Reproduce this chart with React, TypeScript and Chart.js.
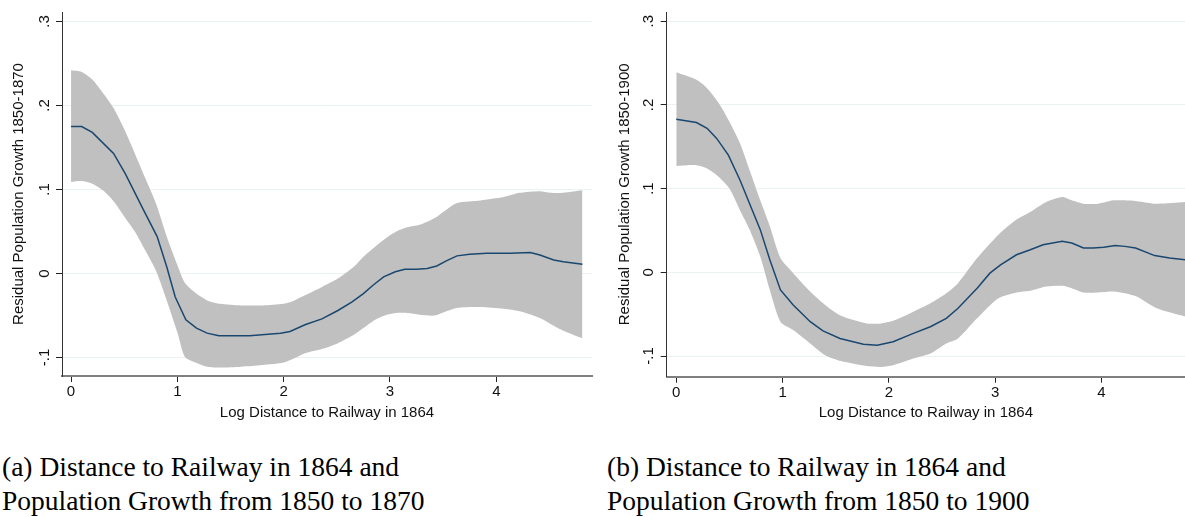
import React, { useEffect, useRef } from "react";
import { Chart, registerables } from "chart.js";

Chart.register(...registerables);

// ---------- Data ----------
const X_TICKS = [0, 1, 2, 3, 4];
const Y_TICKS = [-0.1, 0, 0.1, 0.2, 0.3];
const Y_TICK_LABELS = ["-.1", "0", ".1", ".2", ".3"];
const X_TITLE = "Log Distance to Railway in 1864";

// Panel (a): 1850-1870
const A_BAND_X = [0, 0.1, 0.2, 0.3, 0.4, 0.5, 0.6, 0.7, 0.8, 0.9, 1.0, 1.07, 1.17, 1.28, 1.4, 1.6, 1.8, 2.0, 2.1, 2.2, 2.36, 2.51, 2.66, 2.75, 2.86, 2.97, 3.06, 3.16, 3.28, 3.42, 3.53, 3.63, 3.85, 4.07, 4.22, 4.41, 4.51, 4.63, 4.81];
const A_UPPER = [0.242, 0.24, 0.231, 0.215, 0.197, 0.172, 0.143, 0.113, 0.083, 0.044, 0.01, -0.011, -0.023, -0.032, -0.036, -0.038, -0.038, -0.036, -0.032, -0.026, -0.016, -0.006, 0.008, 0.02, 0.032, 0.043, 0.05, 0.055, 0.058, 0.066, 0.076, 0.084, 0.087, 0.091, 0.096, 0.098, 0.096, 0.096, 0.099];
const A_LOWER = [0.109, 0.11, 0.107, 0.099, 0.086, 0.068, 0.05, 0.027, 0.003, -0.032, -0.07, -0.099, -0.106, -0.111, -0.112, -0.111, -0.109, -0.106, -0.101, -0.095, -0.09, -0.083, -0.073, -0.065, -0.055, -0.049, -0.047, -0.047, -0.049, -0.05, -0.045, -0.041, -0.04, -0.042, -0.045, -0.053, -0.06, -0.068, -0.077];
const A_LINE_X = [0, 0.1, 0.2, 0.4, 0.51, 0.68, 0.81, 0.9, 0.98, 1.08, 1.18, 1.28, 1.39, 1.68, 1.97, 2.06, 2.2, 2.36, 2.51, 2.64, 2.75, 2.84, 2.94, 3.05, 3.14, 3.25, 3.35, 3.44, 3.53, 3.63, 3.75, 3.91, 4.13, 4.32, 4.41, 4.54, 4.63, 4.81];
const A_LINE_Y = [0.175, 0.175, 0.168, 0.143, 0.119, 0.076, 0.044, 0.008, -0.028, -0.055, -0.065, -0.071, -0.074, -0.074, -0.071, -0.069, -0.061, -0.054, -0.044, -0.034, -0.024, -0.014, -0.004, 0.002, 0.005, 0.005, 0.006, 0.009, 0.015, 0.021, 0.023, 0.024, 0.024, 0.025, 0.022, 0.016, 0.014, 0.011];
const A_Y_TITLE = "Residual Population Growth 1850-1870";
const A_CAPTION = ["(a) Distance to Railway in 1864 and", "Population Growth from 1850 to 1870"];

// Panel (b): 1850-1900
const B_BAND_X = [0, 0.19, 0.29, 0.4, 0.5, 0.6, 0.69, 0.79, 0.88, 0.98, 1.1, 1.26, 1.4, 1.55, 1.79, 1.93, 2.04, 2.23, 2.39, 2.54, 2.65, 2.83, 3.03, 3.2, 3.33, 3.48, 3.63, 3.72, 3.83, 3.97, 4.11, 4.22, 4.33, 4.52, 4.79];
const B_UPPER = [0.239, 0.23, 0.22, 0.202, 0.18, 0.154, 0.122, 0.086, 0.055, 0.017, -0.001, -0.023, -0.039, -0.052, -0.061, -0.061, -0.058, -0.047, -0.037, -0.025, -0.013, 0.017, 0.045, 0.063, 0.072, 0.084, 0.09, 0.086, 0.082, 0.082, 0.086, 0.086, 0.085, 0.082, 0.084];
const B_LOWER = [0.127, 0.128, 0.124, 0.114, 0.1, 0.074, 0.051, 0.019, -0.021, -0.059, -0.069, -0.085, -0.099, -0.106, -0.112, -0.113, -0.111, -0.103, -0.097, -0.085, -0.079, -0.055, -0.031, -0.024, -0.022, -0.017, -0.016, -0.019, -0.024, -0.024, -0.023, -0.025, -0.029, -0.043, -0.053];
const B_LINE_X = [0, 0.19, 0.29, 0.38, 0.49, 0.6, 0.69, 0.79, 0.88, 0.98, 1.1, 1.26, 1.38, 1.54, 1.76, 1.89, 2.04, 2.23, 2.39, 2.54, 2.65, 2.83, 2.95, 3.05, 3.2, 3.33, 3.45, 3.63, 3.72, 3.83, 3.92, 4.02, 4.13, 4.22, 4.32, 4.5, 4.64, 4.79];
const B_LINE_Y = [0.183, 0.179, 0.172, 0.16, 0.14, 0.11, 0.082, 0.051, 0.015, -0.021, -0.039, -0.059, -0.07, -0.079, -0.086, -0.087, -0.083, -0.073, -0.065, -0.055, -0.043, -0.019, -0.001, 0.009, 0.021, 0.027, 0.033, 0.037, 0.035, 0.029, 0.029, 0.03, 0.032, 0.031, 0.029, 0.02, 0.017, 0.015];
const B_Y_TITLE = "Residual Population Growth 1850-1900";
const B_CAPTION = ["(b) Distance to Railway in 1864 and", "Population Growth from 1850 to 1900"];

const SANS = '"Liberation Sans", Arial, sans-serif';
const FONT_SIZE = 15;

const zip = (xs: number[], ys: number[]) => xs.map((x, i) => ({ x, y: ys[i] }));

type PanelProps = {
  bandX: number[];
  upper: number[];
  lower: number[];
  lineX: number[];
  lineY: number[];
  yTitle: string;
  xMin: number;
  xMax: number;
  yMin: number;
  yMax: number;
  yAxisWidth: number;
  yTitlePad: number;
  padRight: number;
  width: number;
  height: number;
  plotBottom: number;
};

const yTickLabelPlugin = {
  id: "yTickLabelPlugin",
  afterDraw(chart: any) {
    const s = chart.scales.y;
    const ctx = chart.ctx;
    ctx.save();
    ctx.font = FONT_SIZE + "px " + SANS;
    ctx.fillStyle = "#111";
    ctx.textAlign = "center";
    ctx.textBaseline = "middle";
    Y_TICKS.forEach((v, i) => {
      const py = s.getPixelForValue(v);
      ctx.save();
      ctx.translate(s.right - 17.5, py);
      ctx.rotate(-Math.PI / 2);
      ctx.fillText(Y_TICK_LABELS[i], 0, 0);
      ctx.restore();
    });
    ctx.restore();
  },
};

function Panel(p: PanelProps) {
  const ref = useRef<HTMLCanvasElement | null>(null);
  useEffect(() => {
    if (!ref.current) return;
    const chart = new Chart(ref.current, {
      type: "line",
      data: {
        datasets: [
          {
            data: zip(p.lineX, p.lineY),
            borderColor: "#1a476f",
            borderWidth: 1.5,
            pointRadius: 0,
            fill: false,
            tension: 0,
          },
          {
            data: zip(p.bandX, p.upper),
            borderWidth: 0,
            borderColor: "rgba(0,0,0,0)",
            backgroundColor: "#c0c0c0",
            pointRadius: 0,
            fill: "+1",
            tension: 0.25,
          },
          {
            data: zip(p.bandX, p.lower),
            borderWidth: 0,
            borderColor: "rgba(0,0,0,0)",
            pointRadius: 0,
            fill: false,
            tension: 0.25,
          },
        ],
      },
      options: {
        animation: false,
        responsive: false,
        maintainAspectRatio: false,
        events: [],
        layout: { padding: { top: 12, right: p.padRight, left: 0, bottom: 0 } },
        plugins: { legend: { display: false }, tooltip: { enabled: false } },
        scales: {
          x: {
            type: "linear",
            min: p.xMin,
            max: p.xMax,
            afterBuildTicks: (s: any) => {
              s.ticks = X_TICKS.map((v) => ({ value: v }));
            },
            afterFit: (s: any) => {
              s.height = p.height - p.plotBottom;
            },
            ticks: {
              font: { family: SANS, size: FONT_SIZE },
              color: "#111",
              padding: 1,
              maxRotation: 0,
              autoSkip: false,
              callback: (v: any) => String(v),
            },
            grid: {
              drawOnChartArea: false,
              drawTicks: true,
              tickLength: 6,
              tickColor: "#222",
            },
            border: { display: true, color: "#7f7f7f", width: 2 },
            title: {
              display: true,
              text: X_TITLE,
              font: { family: SANS, size: FONT_SIZE },
              color: "#111",
              padding: { top: 0, bottom: 3 },
            },
          },
          y: {
            type: "linear",
            min: p.yMin,
            max: p.yMax,
            afterBuildTicks: (s: any) => {
              s.ticks = Y_TICKS.map((v) => ({ value: v }));
            },
            afterFit: (s: any) => {
              s.width = p.yAxisWidth;
            },
            ticks: { display: false },
            grid: {
              color: "#eaf2f3",
              lineWidth: 1,
              drawTicks: true,
              tickLength: 6,
              tickColor: "#222",
            },
            border: { display: true, color: "#333", width: 1 },
            title: {
              display: true,
              text: p.yTitle,
              font: { family: SANS, size: FONT_SIZE },
              color: "#111",
              padding: { top: p.yTitlePad, bottom: 0 },
            },
          },
        },
      },
      plugins: [yTickLabelPlugin],
    });
    return () => chart.destroy();
  }, []);
  return <canvas ref={ref} width={p.width} height={p.height} style={{ width: p.width, height: p.height, display: "block" }} />;
}

const captionStyle: React.CSSProperties = {
  position: "absolute",
  fontFamily: '"Liberation Serif", "Times New Roman", serif',
  fontSize: 27.5,
  lineHeight: "34px",
  color: "#000",
  whiteSpace: "nowrap",
};

export default function App() {
  return (
    <div style={{ position: "fixed", left: 0, top: 0, width: 1185, height: 517, background: "#fff", overflow: "hidden" }}>
      <div style={{ position: "absolute", left: 0, top: 0 }}>
        <Panel
          bandX={A_BAND_X}
          upper={A_UPPER}
          lower={A_LOWER}
          lineX={A_LINE_X}
          lineY={A_LINE_Y}
          yTitle={A_Y_TITLE}
          xMin={-0.085}
          xMax={4.9}
          yMin={-0.122}
          yMax={0.3113}
          yAxisWidth={62}
          yTitlePad={10}
          padRight={8}
          width={600}
          height={425}
          plotBottom={376}
        />
      </div>
      <div style={{ position: "absolute", left: 600, top: 0 }}>
        <Panel
          bandX={B_BAND_X}
          upper={B_UPPER}
          lower={B_LOWER}
          lineX={B_LINE_X}
          lineY={B_LINE_Y}
          yTitle={B_Y_TITLE}
          xMin={-0.09}
          xMax={4.785}
          yMin={-0.1247}
          yMax={0.311}
          yAxisWidth={66.7}
          yTitlePad={16}
          padRight={0}
          width={585}
          height={425}
          plotBottom={376.7}
        />
      </div>
      <div style={{ ...captionStyle, left: 2, top: 450 }}>
        {A_CAPTION[0]}
        <br />
        {A_CAPTION[1]}
      </div>
      <div style={{ ...captionStyle, left: 607, top: 450 }}>
        {B_CAPTION[0]}
        <br />
        {B_CAPTION[1]}
      </div>
    </div>
  );
}
